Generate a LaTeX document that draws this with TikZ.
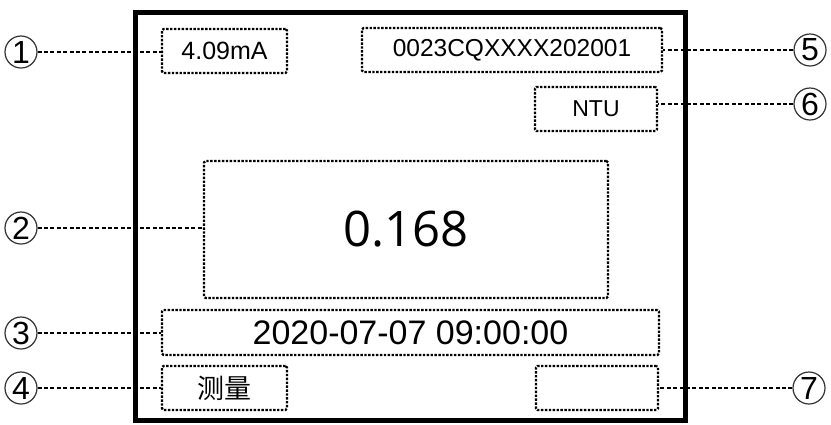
\documentclass[tikz,border=0pt]{standalone}
\usepackage{fontspec}
\setmainfont{Liberation Sans}
\newfontfamily\bigfont{Open Sans}
\newfontfamily\cjk{Noto Sans CJK SC}
\begin{document}
\begin{tikzpicture}[x=1pt,y=-1pt,
  field/.style={draw, line width=2.4pt, dash pattern=on 2.4pt off 1.5pt, rounded corners=1.5pt, inner sep=0pt},
  lead/.style={line width=2.2pt, dash pattern=on 4pt off 2.4pt},
  num/.style={circle, draw=black!80, line width=1.2pt, minimum size=32pt, inner sep=0pt, font=\fontsize{32}{32}\selectfont}
]
\useasboundingbox (0,0) rectangle (831,424);
% outer frame
\draw[line width=5pt] (135.5,12.5) rectangle (685.5,420);
% fields
\node[field, minimum width=125pt, minimum height=44pt, font=\fontsize{25}{25}\selectfont] (b1) at (224.5,51) {4.09mA};
\node[field, minimum width=300pt, minimum height=44pt, font=\fontsize{24.5}{24.5}\selectfont] (b5) at (512,50) {0023CQXXXX202001};
\node[field, minimum width=122pt, minimum height=44pt, font=\fontsize{23}{23}\selectfont] (b6) at (596,109) {NTU};
\node[field, minimum width=404pt, minimum height=137pt, font=\bigfont\fontsize{49}{49}\selectfont] (b2) at (406,229.5) {0.168};
\node[field, minimum width=497pt, minimum height=45pt, font=\fontsize{34}{34}\selectfont] (b3) at (410.5,332.5) {2020-07-07 09:00:00};
\node[field, minimum width=125pt, minimum height=44pt, font=\cjk\fontsize{27}{27}\selectfont] (b4) at (224.5,388) {测量};
\node[field, minimum width=122pt, minimum height=44pt] (b7) at (597,388) {};
% numbers
\node[num] (c1) at (21,52) {1};
\node[num] (c2) at (21,228) {2};
\node[num] (c3) at (21,333) {3};
\node[num] (c4) at (21,388) {4};
\node[num] (c5) at (810,50) {5};
\node[num] (c6) at (810,104) {6};
\node[num] (c7) at (809,388) {7};
% leaders
\draw[lead] (c1.east) -- (c1 -| b1.west);
\draw[lead] (c2.east) -- (c2 -| b2.west);
\draw[lead] (c3.east) -- (c3 -| b3.west);
\draw[lead] (c4.east) -- (c4 -| b4.west);
\draw[lead] (c5.west) -- (c5 -| b5.east);
\draw[lead] (c6.west) -- (c6 -| b6.east);
\draw[lead] (c7.west) -- (c7 -| b7.east);
\end{tikzpicture}
\end{document}
